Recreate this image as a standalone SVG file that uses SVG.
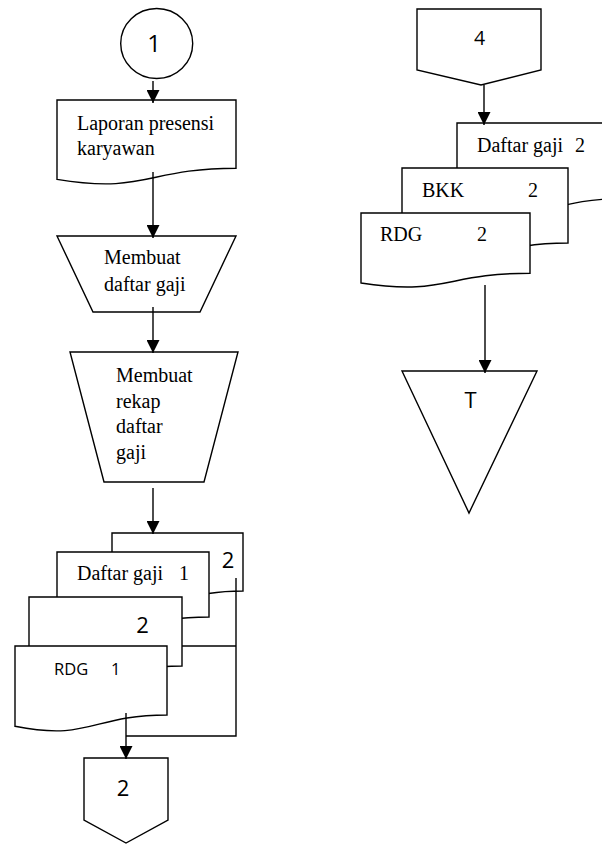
<svg xmlns="http://www.w3.org/2000/svg" width="602" height="854" viewBox="0 0 602 854">
<style>
.shape{fill:#fff;stroke:#000;stroke-width:1.4;stroke-linejoin:miter}
.serif{font-family:"Liberation Serif","Times New Roman",serif;font-size:20px;fill:#000}
.sans{font-family:"Open Sans","Liberation Sans",sans-serif;fill:#000}
.conn{fill:none;stroke:#000;stroke-width:1.4}
</style>
<defs>
<marker id="ah" markerUnits="userSpaceOnUse" markerWidth="13" markerHeight="13" refX="13" refY="6.5" orient="auto">
<path d="M0,0 L13,6.5 L0,13 Z" fill="#000"/>
</marker>
</defs>
<rect width="602" height="854" fill="#fff"/>

<g id="start1">
<ellipse class="shape" cx="156.7" cy="43.5" rx="36" ry="35"/>
<text class="sans" x="154" y="52" font-size="24" text-anchor="middle">1</text>
</g>

<g id="laporan">
<path class="shape" d="M57,100 H236 V168.2 C146.5,168.2 146.5,194.1 57,179.4 Z"/>
<text class="serif" x="77" y="130">Laporan presensi</text>
<text class="serif" x="77" y="155">karyawan</text>
</g>

<g id="membuat-daftar">
<path class="shape" d="M57,236 H236 L200,312 H93 Z"/>
<text class="serif" x="104" y="264">Membuat</text>
<text class="serif" x="104" y="291">daftar gaji</text>
</g>

<g id="membuat-rekap">
<path class="shape" d="M70,352 H238 L204,482 H104 Z"/>
<text class="serif" x="116" y="382">Membuat</text>
<text class="serif" x="116" y="408">rekap</text>
<text class="serif" x="116" y="433">daftar</text>
<text class="serif" x="116" y="459">gaji</text>
</g>

<g id="doc-back-2">
<path class="shape" d="M112,533 H243 V591 C177.5,591 177.5,613 112,600.5 Z"/>
<text class="sans" x="228" y="568" font-size="22" text-anchor="middle">2</text>
</g>

<g id="daftar-gaji-1">
<path class="shape" d="M57,552 H209 V617 C133,617 133,641.7 57,627.7 Z"/>
<text class="serif" x="77" y="580">Daftar gaji</text>
<text class="serif" x="179" y="580">1</text>
</g>

<g id="doc-2">
<path class="shape" d="M29,597 H182 V666 C105.5,666 105.5,692.2 29,677.3 Z"/>
<text class="sans" x="142.5" y="632.5" font-size="22" text-anchor="middle">2</text>
</g>

<g id="rdg-1">
<path class="shape" d="M15,646 H167 V715 C91,715 91,741.2 15,726.3 Z"/>
<text class="sans" x="54" y="675" font-size="16.5">RDG</text>
<text class="sans" x="111" y="675" font-size="16.5">1</text>
</g>

<g id="offpage-2">
<path class="shape" d="M84,758 H168 V820 L126,843 L84,820 Z"/>
<text class="sans" x="123" y="795.5" font-size="22" text-anchor="middle">2</text>
</g>

<g id="offpage-4">
<path class="shape" d="M417,9 H541 V70 L481,85 L417,70 Z"/>
<text class="sans" x="479.5" y="45" font-size="19.5" text-anchor="middle">4</text>
</g>

<g id="daftar-gaji-2">
<path class="shape" d="M457,123 H627 V198.4 C542,198.4 542,227.1 457,210.8 Z"/>
<text class="serif" x="477" y="152">Daftar gaji</text>
<text class="serif" x="575" y="152">2</text>
</g>

<g id="bkk-2">
<path class="shape" d="M402,168 H568 V243 C485,243 485,271.5 402,255.3 Z"/>
<text class="serif" x="422" y="197">BKK</text>
<text class="serif" x="528" y="197">2</text>
</g>

<g id="rdg-2">
<path class="shape" d="M361,213 H530 V273.2 C445.5,273.2 445.5,296 361,283 Z"/>
<text class="serif" x="380" y="241">RDG</text>
<text class="serif" x="477" y="241">2</text>
</g>

<g id="terminal-T">
<path class="shape" d="M402,371 L537,371 L469,513 Z"/>
<text class="sans" x="470.5" y="407.5" font-size="22" text-anchor="middle">T</text>
</g>

<g id="connectors">
<line class="conn" x1="153" y1="81" x2="153" y2="103" marker-end="url(#ah)"/>
<line class="conn" x1="153" y1="172" x2="153" y2="238" marker-end="url(#ah)"/>
<line class="conn" x1="153" y1="307" x2="153" y2="353" marker-end="url(#ah)"/>
<line class="conn" x1="153" y1="488" x2="153" y2="534" marker-end="url(#ah)"/>
<polyline class="conn" points="236,578 236,736 126,736"/>
<line class="conn" x1="182" y1="646" x2="236" y2="646"/>
<line class="conn" x1="126" y1="713" x2="126" y2="759" marker-end="url(#ah)"/>
<line class="conn" x1="484" y1="85" x2="484" y2="125" marker-end="url(#ah)"/>
<line class="conn" x1="485" y1="285" x2="485" y2="373" marker-end="url(#ah)"/>
</g>
</svg>
